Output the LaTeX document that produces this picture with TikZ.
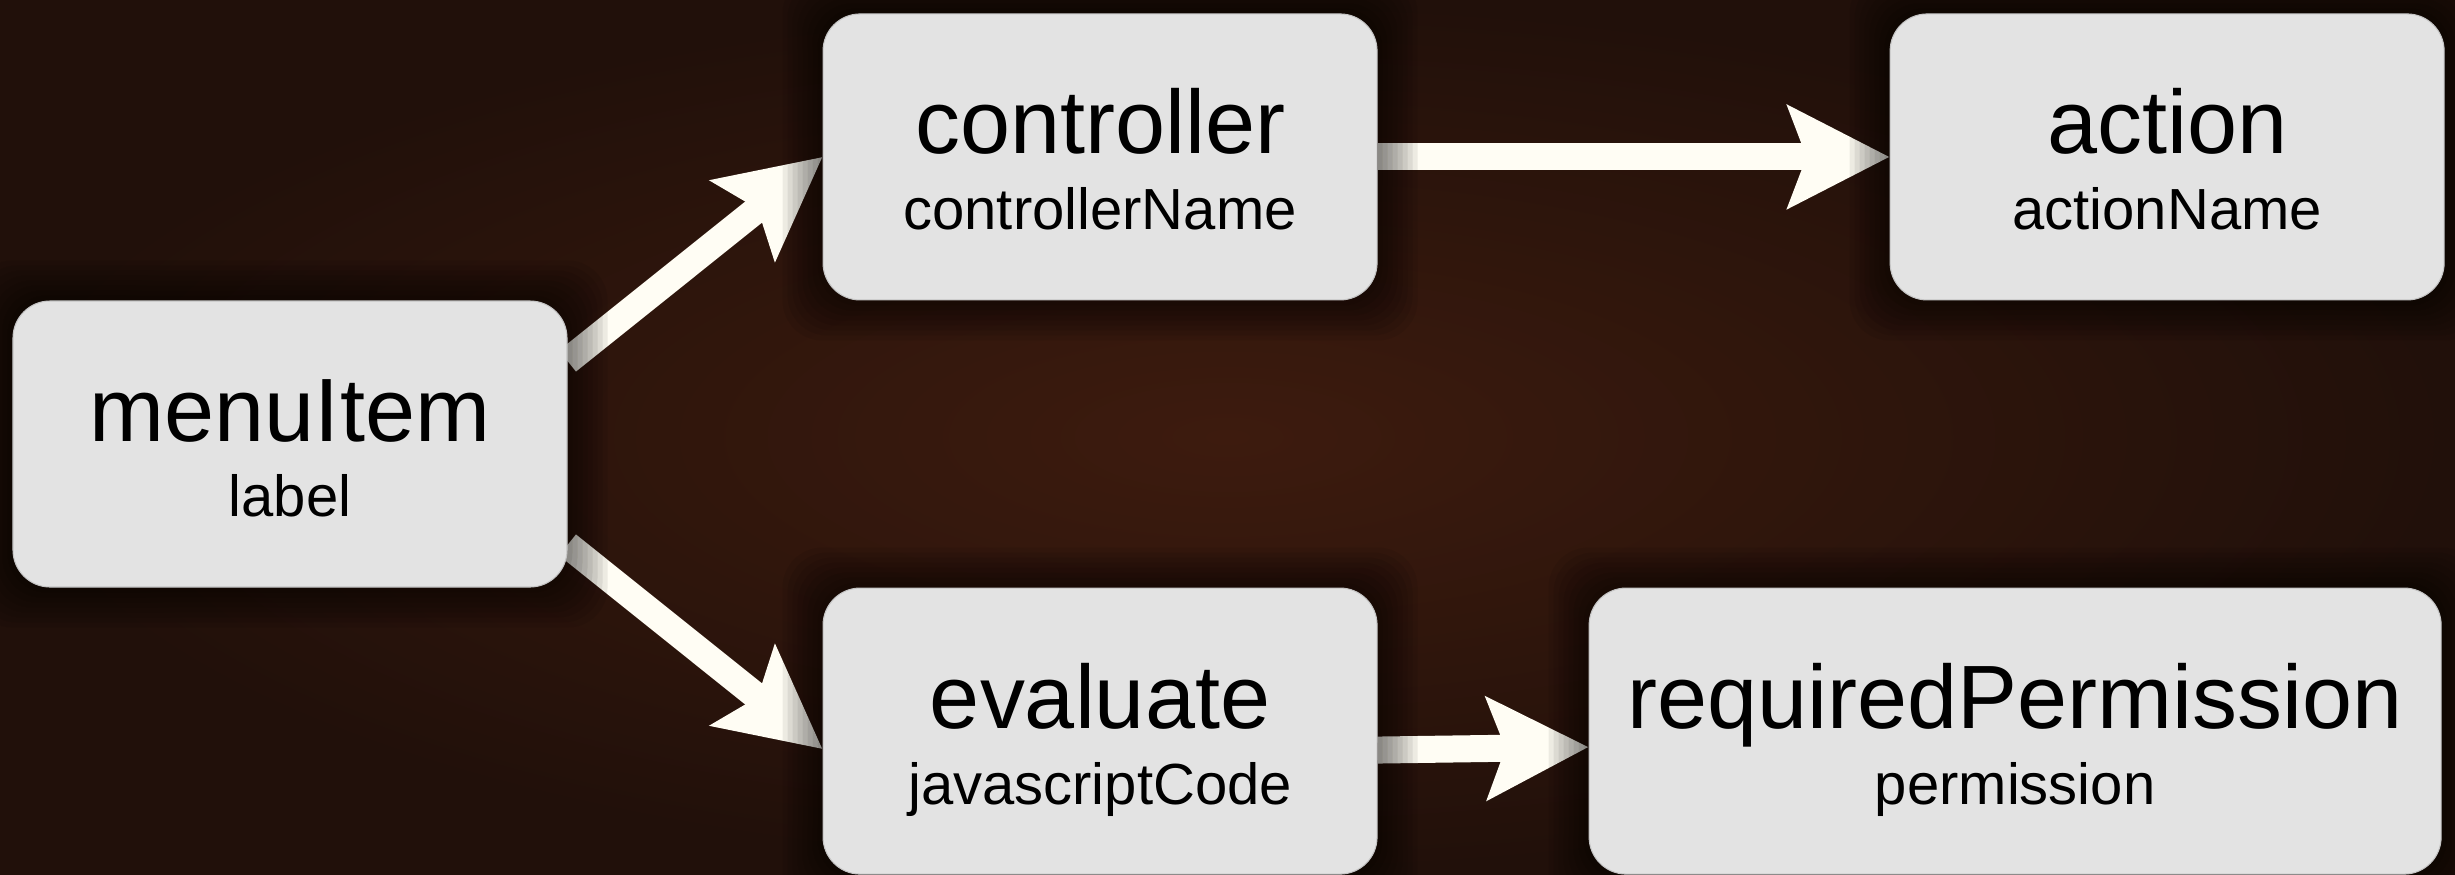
\documentclass[tikz,border=0pt]{standalone}
\usepackage{fontspec}
\setmainfont{Liberation Sans}
\usetikzlibrary{calc,arrows.meta,positioning,backgrounds}

\definecolor{boxfill}{HTML}{E3E3E3}
\definecolor{boxline}{HTML}{C4C4C4}
\definecolor{arrowfill}{HTML}{FFFDF4}
\definecolor{bglight}{HTML}{3D1B0E}
\definecolor{bgdark}{HTML}{21100A}

\newcommand{\boxlabel}[2]{{\fontsize{25.6pt}{21.6pt}\selectfont\rule{0pt}{24.1pt}#1}\\\rule[-4.2pt]{0pt}{4.2pt}#2}

\begin{document}
\begin{tikzpicture}[
    block/.style={rectangle,
        draw=boxline, line width=0.3pt,
        fill=boxfill,
        rounded corners=0.37cm,
        align=center,
        inner sep=0pt,
        font=\fontsize{16.5pt}{21.6pt}\selectfont,
        minimum height=2.86cm,
        minimum width=5.54cm},
    link/.style={line width=0.27cm,
        draw=arrowfill,
        -{Stealth[length=1.01cm, width=1.01cm, inset=0.18cm]}},
        on grid=false,
    ]

    \useasboundingbox (-2.90,-4.30) rectangle (21.65,4.44);

    \node [block] (menuitem) {\boxlabel{menuItem}{label}};
    \node [block, above right = 0cm and 2.55cm of menuitem] (controller) {\boxlabel{controller}{controllerName}};
    \node [block, right = 5.12cm of controller] (action) {\boxlabel{action}{actionName}};
    \node [block, below right = 0cm and 2.55cm of menuitem] (evaluate) {\boxlabel{evaluate}{javascriptCode}};
    \node [block, right = 2.11cm of evaluate, minimum width=8.52cm] (required) {\boxlabel{requiredPermission}{permission}};

    \begin{scope}[on background layer]
        \shade[inner color=bglight, outer color=bgdark] (-2.90,-4.30) rectangle (21.65,4.44);

        \draw[link] ($(menuitem.east)+(0,0.83)$) -- (controller.west);
        \draw[link] ($(menuitem.east)+(0,-1.01)$) -- ($(evaluate.west)+(0,-0.18)$);
        \draw[link] (controller.east) -- (action.west);
        \draw[link] ($(evaluate.east)+(0,-0.19)$) -- ($(required.west)+(0,-0.16)$);

        % soft shadow round the boxes
        \foreach \n in {menuitem,controller,action,evaluate,required}
            \foreach \k in {1,...,8}
                \fill[black, opacity=0.07, rounded corners=0.4cm]
                    ($(\n.south west)+(-0.05*\k,-0.05*\k)$) rectangle ($(\n.north east)+(0.05*\k,0.05*\k)$);
    \end{scope}
\end{tikzpicture}
\end{document}
